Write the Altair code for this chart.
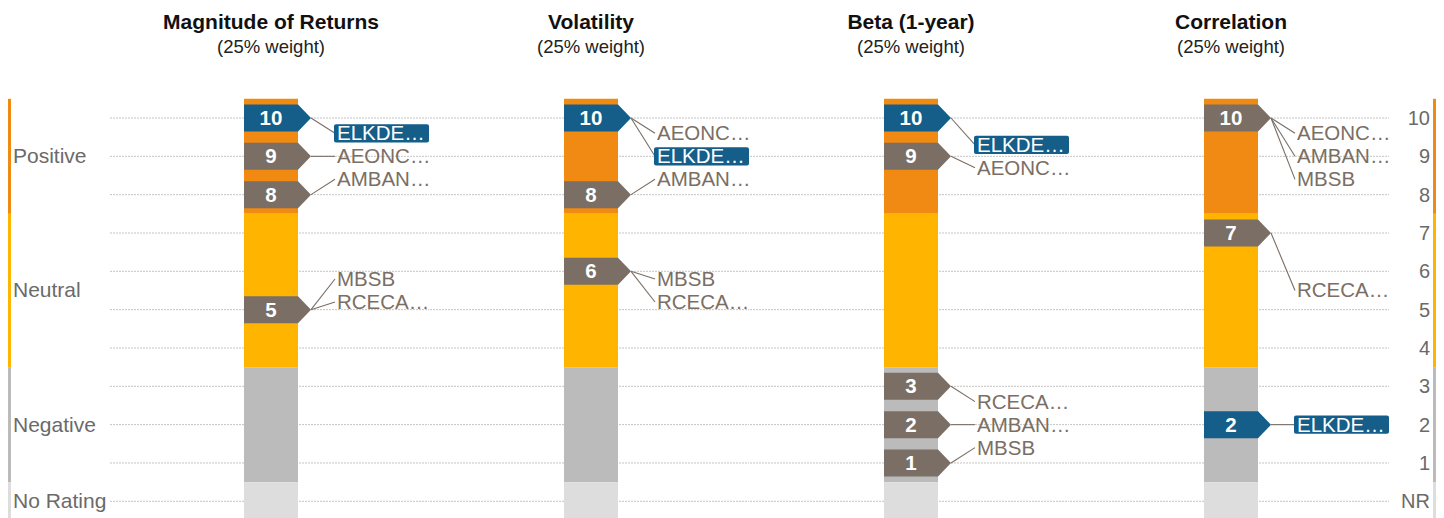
import altair as alt
import pandas as pd

# ---------------- data ----------------
metrics = ["Magnitude of Returns", "Volatility", "Beta (1-year)", "Correlation"]
weights = ["(25% weight)", "(25% weight)", "(25% weight)", "(25% weight)"]
stocks = ["AEONC…", "AMBAN…", "ELKDE…", "MBSB", "RCECA…"]
magnitude_scores = [9, 8, 10, 5, 5]
volatility_scores = [10, 8, 10, 6, 6]
beta_scores = [9, 2, 10, 1, 3]
correlation_scores = [10, 10, 2, 10, 7]
highlight_stock = "ELKDE…"

band_names = ["Positive", "Neutral", "Negative", "No Rating"]
band_lo = [7.5, 3.5, 0.5, -0.5]
band_hi = [10.5, 7.5, 3.5, 0.5]
tick_values = [10, 9, 8, 7, 6, 5, 4, 3, 2, 1, 0]
tick_labels = ["10", "9", "8", "7", "6", "5", "4", "3", "2", "1", "NR"]

all_scores = [magnitude_scores, volatility_scores, beta_scores, correlation_scores]

# ---------------- styling / layout ----------------
FONT = "Liberation Sans"
BAND_COLORS = {"Positive": "#F08A12", "Neutral": "#FFB400", "Negative": "#BBBBBB", "No Rating": "#DDDDDD"}
MARK_GREY = "#7A6E65"
MARK_BLUE = "#145E89"
K = 38.33          # px per score unit
Y10 = 118          # pixel row of score 10
STEP = 320
BAR0 = 244
BAR_W = 54
LABEL_GAP = 0.6
W, H = 1428, 510


def sy(py):
    return 10 - (py - Y10) / K


def band_of(s):
    if s >= 8:
        return 0
    if s >= 4:
        return 1
    if s >= 1:
        return 2
    return 3


band_center = [(lo + hi) / 2 for lo, hi in zip(band_lo, band_hi)]
band_center[3] = 0

grid_rows, band_rows, lead_rows, marker_rows, label_rows, box_rows, title_rows = [], [], [], [], [], [], []

for k, (metric, wt, scores) in enumerate(zip(metrics, weights, all_scores)):
    left = BAR0 + STEP * k
    cx = left + BAR_W / 2
    title_rows.append({"x": cx, "y": sy(22), "t": metric, "kind": "title"})
    title_rows.append({"x": cx, "y": sy(47), "t": wt, "kind": "sub"})
    for v in tick_values:
        grid_rows.append({"x": 110 + STEP * k, "x2": 429 + STEP * k, "y": v})
    for name, lo, hi in zip(band_names, band_lo, band_hi):
        band_rows.append({"x": left, "x2": left + BAR_W, "y": lo, "y2": hi, "c": BAND_COLORS[name]})
    # markers
    groups = {}
    for st, s in zip(stocks, scores):
        groups.setdefault(s, []).append(st)
    for s, members in groups.items():
        marker_rows.append({"x": cx, "y": s, "t": str(s),
                            "c": MARK_BLUE if highlight_stock in members else MARK_GREY})
    # labels grouped by band, centred in the band
    for b in range(4):
        members = sorted([(s, st) for st, s in zip(stocks, scores) if band_of(s) == b],
                         key=lambda p: (-p[0], p[1]))
        n = len(members)
        for i, (s, st) in enumerate(members):
            ly = band_center[b] + (n - 1) / 2 * LABEL_GAP - i * LABEL_GAP
            lead_rows.append({"x": left + 67, "y": s, "x2": left + 91, "y2": ly})
            hl = st == highlight_stock
            label_rows.append({"x": left + 93, "y": ly, "t": st, "c": "#FFFFFF" if hl else MARK_GREY})
            if hl:
                box_rows.append({"x": left + 90, "x2": left + 185,
                                 "y": ly - 9.2 / K, "y2": ly + 9.2 / K})

# side strips (the outer 8px of the picture fall in the page margin; keep a narrow strip)
for name, lo, hi in zip(band_names, band_lo, band_hi):
    band_rows.append({"x": 8, "x2": 11, "y": lo, "y2": hi, "c": BAND_COLORS[name]})
    band_rows.append({"x": 1433, "x2": 1436, "y": lo, "y2": hi, "c": BAND_COLORS[name]})

side_rows = [{"x": 13, "y": c, "t": n} for n, c in zip(band_names, band_center)]
tick_rows = [{"x": 1430, "y": v, "t": t} for v, t in zip(tick_values, tick_labels)]

xs = alt.Scale(domain=[8, 8 + W], nice=False, zero=False)
ys = alt.Scale(domain=[sy(8 + H), sy(8)], nice=False, zero=False)
X = alt.X("x:Q", scale=xs, axis=None)
Y = alt.Y("y:Q", scale=ys, axis=None)

grid = alt.Chart(pd.DataFrame(grid_rows)).mark_rule(
    color="#C4C4C4", strokeWidth=1, strokeDash=[2, 1]
).encode(x=X, x2="x2:Q", y=Y)

bands = alt.Chart(pd.DataFrame(band_rows)).mark_rect(clip=True).encode(
    x=X, x2="x2:Q", y=Y, y2="y2:Q", color=alt.Color("c:N", scale=None))

leads = alt.Chart(pd.DataFrame(lead_rows)).mark_rule(color=MARK_GREY, strokeWidth=1.1).encode(
    x=X, x2="x2:Q", y=Y, y2="y2:Q")

shape = "M-0.675,-0.3375L0.675,-0.3375L1,0L0.675,0.3375L-0.675,0.3375Z"
markers = alt.Chart(pd.DataFrame(marker_rows)).mark_point(
    shape=shape, size=6400, filled=True, opacity=1, strokeWidth=0
).encode(x=X, y=Y, color=alt.Color("c:N", scale=None))

marker_text = alt.Chart(pd.DataFrame(marker_rows)).mark_text(
    font=FONT, fontSize=20.5, fontWeight="bold", color="white", align="center", baseline="middle", dy=1
).encode(x=X, y=Y, text="t:N")

boxes = alt.Chart(pd.DataFrame(box_rows)).mark_rect(color=MARK_BLUE, cornerRadius=2).encode(
    x=X, x2="x2:Q", y=Y, y2="y2:Q")

labels = alt.Chart(pd.DataFrame(label_rows)).mark_text(
    font=FONT, fontSize=20.5, align="left", baseline="middle", dy=1
).encode(x=X, y=Y, text="t:N", color=alt.Color("c:N", scale=None))

side = alt.Chart(pd.DataFrame(side_rows)).mark_text(
    font=FONT, fontSize=21, align="left", baseline="middle", color="#6A6A6A", dy=1
).encode(x=X, y=Y, text="t:N")

ticks = alt.Chart(pd.DataFrame(tick_rows)).mark_text(
    font=FONT, fontSize=20, align="right", baseline="middle", color="#6A6A6A", dy=1
).encode(x=X, y=Y, text="t:N")

tdf = pd.DataFrame(title_rows)
titles = alt.Chart(tdf[tdf.kind == "title"]).mark_text(
    font=FONT, fontSize=21, fontWeight="bold", align="center", baseline="middle", color="#111111", dy=1
).encode(x=X, y=Y, text="t:N")
subs = alt.Chart(tdf[tdf.kind == "sub"]).mark_text(
    font=FONT, fontSize=18.5, align="center", baseline="middle", color="#222222"
).encode(x=X, y=Y, text="t:N")

chart = alt.layer(
    grid, bands, leads, markers, marker_text, boxes, labels, side, ticks, titles, subs
).properties(
    width=W, height=H, autosize="none", padding=0
).configure_view(stroke=None)

chart.save("out.html", embed_options={"renderer": "svg", "actions": False})
